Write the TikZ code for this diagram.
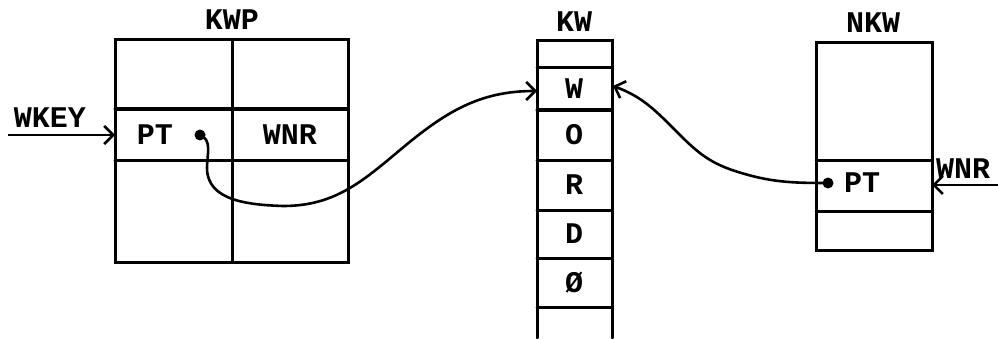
\documentclass[tikz,border=0pt]{standalone}
\usepackage{fontspec}
\setmainfont{Liberation Mono}
\usetikzlibrary{arrows.meta}
\begin{document}
\begin{tikzpicture}[x=1pt,y=1pt,
  every node/.style={font=\fontsize{30}{30}\selectfont\bfseries, inner sep=0pt},
  grid/.style={line width=3pt, line cap=round},
  link/.style={line width=2.6pt, -{Straight Barb[length=9pt,width=18pt,line width=2.6pt]}},
  pin/.style={circle, fill, minimum size=11pt},
]
\useasboundingbox (0,0) rectangle (998,338);

% KWP table: 2 x 3 grid
\draw[grid] (115,76) rectangle (348,298);
\draw[grid] (232,76) -- (232,298);
\draw[grid] (115,178) -- (348,178);
\draw[grid] (115,229) -- (348,229);
\node (kwp) at (232,318) {KWP};
\node (kwpPT) at (155,203) {PT};
\node (kwpWNR) at (290,203) {WNR};
\node[pin] (p1) at (200,203) {};
\coordinate (kwpIn) at (115,203);
\coordinate (wkeyStart) at (8,203);
\node (wkey) at (50,220) {WKEY};
\draw[link] (wkeyStart) -- (kwpIn);

% KW column
\draw[grid] (537,0) -- (537,297) -- (612,297) -- (612,0);
\foreach \yy in {270,228,178,128,80,31} \draw[grid] (537,\yy) -- (612,\yy);
\node (kw) at (574,316) {KW};
\node (kwW) at (574,249) {W};
\node (kwO) at (574,203) {O};
\node (kwR) at (574,153) {R};
\node (kwD) at (574,104) {D};
\node (kwZ) at (574,55) {Ø};
\coordinate (kwWin) at (537,247);
\coordinate (kwWout) at (613,252);

% NKW table
\draw[grid] (816,88) rectangle (932,295);
\draw[grid] (816,178) -- (932,178);
\draw[grid] (816,127) -- (932,127);
\node (nkw) at (873,315) {NKW};
\node (nkwPT) at (862,155) {PT};
\node[pin] (p2) at (828,155) {};
\node (wnr) at (963,169) {WNR};
\coordinate (wnrStart) at (998,153);
\coordinate (nkwIn) at (932,153);
\draw[link] (wnrStart) -- (nkwIn);

% pointers into KW
\draw[link] (p1.center) to[out=-20,in=90] (207,170) to[out=-90,in=178] (283,132)
  to[out=0,in=-140] (400,188) to[out=40,in=180] (kwWin);
\draw[link] (p2.center) to[out=180,in=-18] (735,167) to[out=162,in=-45] (680,203)
  to[out=135,in=-20] (kwWout);
\end{tikzpicture}
\end{document}
